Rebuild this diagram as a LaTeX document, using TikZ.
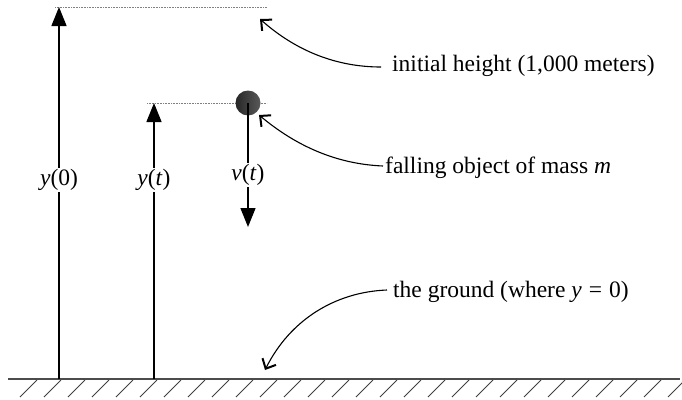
\documentclass[tikz,border=0pt]{standalone}
\usepackage{fontspec}
\setmainfont{Liberation Serif}
\usetikzlibrary{arrows.meta}
\begin{document}
\begin{tikzpicture}[x=1pt,y=-1pt,
  font=\fontsize{23.5}{27}\selectfont,
  vert/.style={line width=1.4pt,-{Triangle[length=19pt,width=15pt]}},
  leader/.style={line width=1.1pt,-{Straight Barb[length=8pt,width=15pt,line width=2pt]}},
  guide/.style={densely dotted,line width=0.6pt,gray},
  lbl/.style={fill=white,inner sep=1.5pt},
  txt/.style={anchor=base west,inner sep=0pt}]
\useasboundingbox (0,0) rectangle (682,399);
\begin{scope}
\clip (0,0) rectangle (682,399);
% ground
\coordinate (gl) at (8,379);
\coordinate (gr) at (680,379);
\draw[line width=1.2pt,black!70] (gl) -- (gr);
\foreach \k in {0,...,27}{
  \draw[line width=0.9pt,black!75] (37+24*\k,380) -- ++(-17,17);
}
\end{scope}
% guides
\coordinate (h0a) at (55,7);
\coordinate (h0b) at (267,7);
\coordinate (hta) at (147,103);
\coordinate (htb) at (267,103);
\draw[guide] (h0a) -- (h0b);
\draw[guide] (hta) -- (htb);
% vertical arrows
\coordinate (b0) at (59,379);
\coordinate (t0) at (59,7);
\coordinate (bt) at (154,379);
\coordinate (tt) at (154,103);
\draw[vert] (b0) -- (t0);
\draw[vert] (bt) -- (tt);
\node[lbl] (y0) at (59,180) {\textit{y}(0)};
\node[lbl] (yt) at (154,180) {\textit{y}(\textit{t})};
% ball
\node[circle,minimum size=25pt,inner sep=0pt,left color=black!85,right color=black!65] (ball) at (248,103) {};
\coordinate (vend) at (248,227);
\draw[vert] (ball.center) -- (vend);
\node[lbl] (vl) at (248,175) {\textit{v}(\textit{t})};
% texts
\node[txt] (ih) at (392,71) {initial height (1,000 meters)};
\node[txt] (fo) at (385,173) {falling object of mass \textit{m}};
\node[txt] (gd) at (393,297) {the ground (where \textit{y}\hspace{0.3em}=\hspace{0.3em}0)};
\coordinate (s1) at (381,67);
\coordinate (s2) at (383,166);
\coordinate (s3) at (387,290);
\coordinate (a1) at (260,19);
\coordinate (a2) at (259,115);
\coordinate (a3) at (265,370);
\draw[leader] (s1) .. controls (335,67) and (295,50) .. (a1);
\draw[leader] (s2) .. controls (335,164) and (295,145) .. (a2);
\draw[leader] (s3) .. controls (335,292) and (290,320) .. (a3);
\end{tikzpicture}
\end{document}
